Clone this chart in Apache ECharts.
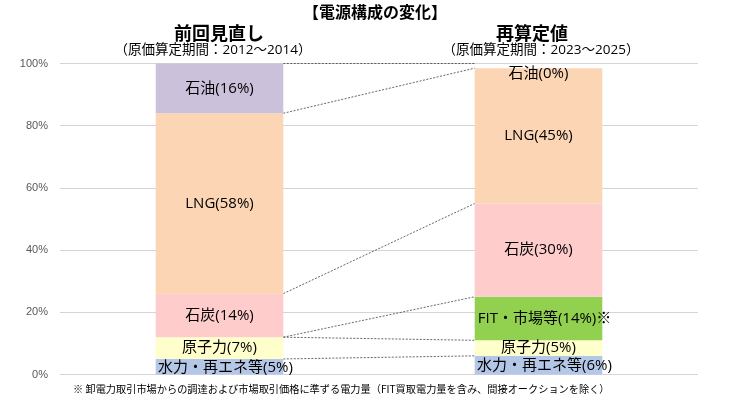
<!DOCTYPE html>
<html><head><meta charset="utf-8">
<script src="https://cdn.jsdelivr.net/npm/echarts@6/dist/echarts.min.js"></script>
<style>html,body{margin:0;padding:0;background:#fff}#c{width:740px;height:413px}</style>
</head><body><div id="c"></div>
<script>
var categories = ['前回見直し', '再算定値'];
var fuels = ['水力・再エネ等', '原子力', 'FIT・市場等', '石炭', 'LNG', '石油'];
var colors = ['#b4c7e7', '#ffffcc', '#92d050', '#ffcccc', '#fcd5b4', '#ccc1da'];
var leftValues = [5, 7, null, 14, 58, 16];
var rightValues = [6, 5, 14, 30, 43.5, 0];
var leftPct = [5, 7, null, 14, 58, 16];
var rightPct = [6, 5, 14, 30, 45, 0];
var yTicks = [0, 20, 40, 60, 80, 100];
var linkLeft = [5, 12, 12, 26, 84, 100];
var linkRight = [6, 11, 25, 55, 98.5, 100];

var FONT = '"Noto Sans CJK JP", "Noto Sans", sans-serif';
var LFONT = '"Open Sans", "Noto Sans CJK JP", sans-serif';
var chart = echarts.init(document.getElementById('c'), null, {renderer: 'canvas'});

var series = fuels.map(function (f, i) {
  return {
    name: f, type: 'bar', stack: 'total', barWidth: '40%',
    itemStyle: {color: colors[i]},
    data: [leftValues[i], rightValues[i]],
    label: {
      show: true, position: 'inside', color: '#000', fontSize: 15, fontFamily: LFONT,
      offset: i === 0 ? [6, 1] : (i === 2 ? [6, 0] : [0, 0]),
      formatter: function (p) {
        var pct = p.dataIndex === 0 ? leftPct[i] : rightPct[i];
        if (pct === null || pct === undefined) return '';
        return f + '(' + pct + '%)' + (i === 2 ? '※' : '');
      }
    },
    z: 3
  };
});
series[5].data = [leftValues[5], {value: rightValues[5], label: {offset: [0, 6]}}];

series.push({
  type: 'custom', z: 2, silent: true,
  encode: {x: 0, y: [1, 2]},
  data: linkLeft.map(function (v, k) { return [0, v, linkRight[k]]; }),
  renderItem: function (params, api) {
    var p1 = api.coord([0, api.value(1)]);
    var p2 = api.coord([1, api.value(2)]);
    var half = api.size([1, 0])[0] * 0.4 / 2;
    return {
      type: 'line',
      shape: {x1: p1[0] + half, y1: p1[1], x2: p2[0] - half, y2: p2[1]},
      style: {stroke: '#404040', lineWidth: 0.8, lineDash: [2, 1.5]}
    };
  }
});

chart.setOption({
  animation: false,
  grid: {left: 60, right: 42, top: 63.5, bottom: 38.5},
  xAxis: {
    type: 'category', data: categories,
    axisLine: {show: false}, axisTick: {show: false}, axisLabel: {show: false}
  },
  yAxis: {
    type: 'value', min: 0, max: 100, interval: 20,
    axisLine: {show: false}, axisTick: {show: false},
    splitLine: {lineStyle: {color: '#d4d4d4', width: 1}},
    axisLabel: {
      color: '#595959', fontSize: 11, fontFamily: '"Liberation Sans", Arial, sans-serif',
      margin: 12, padding: [6, 0, 0, 0],
      formatter: function (v) { return yTicks.indexOf(v) >= 0 ? v + '%' : ''; }
    }
  },
  graphic: [
    {type: 'text', x: 375, y: 12, style: {text: '【電源構成の変化】', textAlign: 'center', textVerticalAlign: 'middle', font: 'bold 16px ' + FONT, fill: '#000'}},
    {type: 'text', x: 219, y: 33, style: {text: categories[0], textAlign: 'center', textVerticalAlign: 'middle', font: 'bold 18px ' + FONT, fill: '#000'}},
    {type: 'text', x: 213, y: 50, style: {text: '（原価算定期間：2012～2014）', textAlign: 'center', textVerticalAlign: 'middle', font: '13.5px ' + LFONT, fill: '#000'}},
    {type: 'text', x: 532, y: 33, style: {text: categories[1], textAlign: 'center', textVerticalAlign: 'middle', font: 'bold 18px ' + FONT, fill: '#000'}},
    {type: 'text', x: 541, y: 50, style: {text: '（原価算定期間：2023～2025）', textAlign: 'center', textVerticalAlign: 'middle', font: '13.5px ' + LFONT, fill: '#000'}},
    {type: 'text', x: 73, y: 389, style: {text: '※ 卸電力取引市場からの調達および市場取引価格に準ずる電力量（FIT買取電力量を含み、間接オークションを除く）', textAlign: 'left', textVerticalAlign: 'middle', font: '10.2px ' + FONT, fill: '#000'}}
  ],
  series: series
});
</script></body></html>
